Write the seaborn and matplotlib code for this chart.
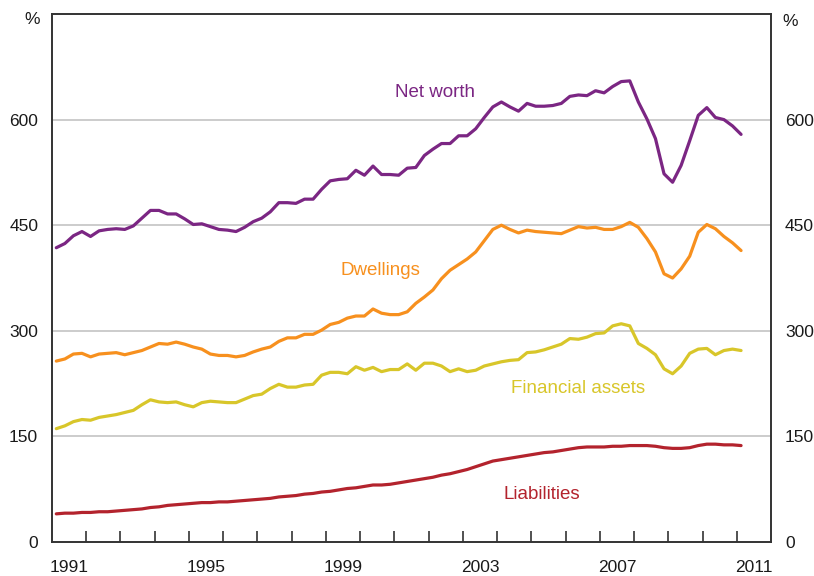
import seaborn as sns
import matplotlib.pyplot as plt
import matplotlib.ticker as mticker
import pandas as pd
import numpy as np

# quarterly, 1991 Q1 - 2011 Q1, per cent of household disposable income
net_worth = [418, 424, 435, 441, 434, 442, 444, 445, 444, 449,
             460, 471, 471, 466, 466, 459, 451, 452, 448, 444,
             443, 441, 447, 455, 460, 469, 482, 482, 481, 487,
             487, 501, 513, 515, 516, 528, 521, 534, 522, 522,
             521, 531, 532, 549, 558, 566, 566, 577, 577, 587,
             603, 618, 625, 618, 612, 623, 619, 619, 620, 623,
             633, 635, 634, 641, 638, 647, 654, 655, 625, 601,
             573, 523, 511, 535, 570, 606, 617, 603, 600, 591,
             579]
dwellings = [257, 260, 267, 268, 263, 267, 268, 269, 266, 269,
             272, 277, 282, 281, 284, 281, 277, 274, 267, 265,
             265, 263, 265, 270, 274, 277, 285, 290, 290, 295,
             295, 301, 309, 312, 318, 321, 321, 331, 325, 323,
             323, 327, 339, 348, 358, 374, 386, 394, 402, 412,
             428, 444, 450, 444, 439, 443, 441, 440, 439, 438,
             443, 448, 446, 447, 444, 444, 448, 454, 447, 431,
             412, 381, 375, 388, 406, 440, 451, 445, 434, 425,
             414]
financial_assets = [161, 165, 171, 174, 173, 177, 179, 181, 184, 187,
                    195, 202, 199, 198, 199, 195, 192, 198, 200, 199,
                    198, 198, 203, 208, 210, 218, 224, 220, 220, 223,
                    224, 237, 241, 241, 239, 249, 244, 248, 242, 245,
                    245, 253, 244, 254, 254, 250, 242, 246, 242, 244,
                    250, 253, 256, 258, 259, 269, 270, 273, 277, 281,
                    289, 288, 291, 296, 297, 307, 310, 307, 282, 275,
                    266, 246, 239, 250, 268, 274, 275, 266, 272, 274,
                    272]
liabilities = [40, 41, 41, 42, 42, 43, 43, 44, 45, 46,
               47, 49, 50, 52, 53, 54, 55, 56, 56, 57,
               57, 58, 59, 60, 61, 62, 64, 65, 66, 68,
               69, 71, 72, 74, 76, 77, 79, 81, 81, 82,
               84, 86, 88, 90, 92, 95, 97, 100, 103, 107,
               111, 115, 117, 119, 121, 123, 125, 127, 128, 130,
               132, 134, 135, 135, 135, 136, 136, 137, 137, 137,
               136, 134, 133, 133, 134, 137, 139, 139, 138, 138,
               137]

series_names = ["Net worth", "Dwellings", "Financial assets", "Liabilities"]
colors = ["#7B2683", "#F7901E", "#D8C62A", "#B3232D"]
year_labels = [1991, 1995, 1999, 2003, 2007, 2011]
y_ticks = [0, 150, 300, 450, 600]

# mid-quarter positions
n = len(net_worth)
dates = 1991 + (np.arange(n) + 0.5) / 4

df = pd.DataFrame({
    "date": np.tile(dates, 4),
    "value": net_worth + dwellings + financial_assets + liabilities,
    "series": np.repeat(series_names, n),
})

sns.set_style("white")
plt.rcParams["font.family"] = ["Liberation Sans", "DejaVu Sans"]

fig = plt.figure(figsize=(8.14, 5.76), dpi=100)
ax = fig.add_axes([0.0639, 0.059, 0.8833, 0.9167])

for v in y_ticks[1:]:
    ax.axhline(v, color="#BEBEBE", lw=1.1, zorder=0)

sns.lineplot(data=df, x="date", y="value", hue="series",
             palette=dict(zip(series_names, colors)), lw=2.3,
             legend=False, ax=ax)

ax.set_xlim(1991, 2012)
ax.set_ylim(0, 750)
ax.set_xlabel("")
ax.set_ylabel("")

ax.set_xticks([y + 0.5 for y in year_labels])
ax.set_xticklabels([str(y) for y in year_labels])
ax.xaxis.set_minor_locator(mticker.FixedLocator(np.arange(1992, 2012)))
ax.tick_params(axis="x", which="major", length=0, pad=13, labelsize=12.5, colors="#1a1a1a")
ax.tick_params(axis="x", which="minor", direction="in", length=8, width=1.2, color="#333333", bottom=True)

ax.set_yticks(y_ticks)
ax.tick_params(axis="y", length=0, labelsize=12.5, labelleft=True, labelright=True,
               pad=10, colors="#1a1a1a")

for s in ax.spines.values():
    s.set_color("#333333")
    s.set_linewidth(1.4)

fig.text(32 / 814, 1 - 20 / 576, "%", ha="center", va="center", fontsize=12.5, color="#1a1a1a")
fig.text(790 / 814, 1 - 22 / 576, "%", ha="center", va="center", fontsize=12.5, color="#1a1a1a")

label_pos = [(2002.2, 638), (2000.6, 386), (2006.35, 218), (2005.3, 68)]
for name, c, (x, y) in zip(series_names, colors, label_pos):
    ax.text(x, y, name, color=c, fontsize=13.5, ha="center", va="center")

fig.savefig("out.png", dpi=100)
